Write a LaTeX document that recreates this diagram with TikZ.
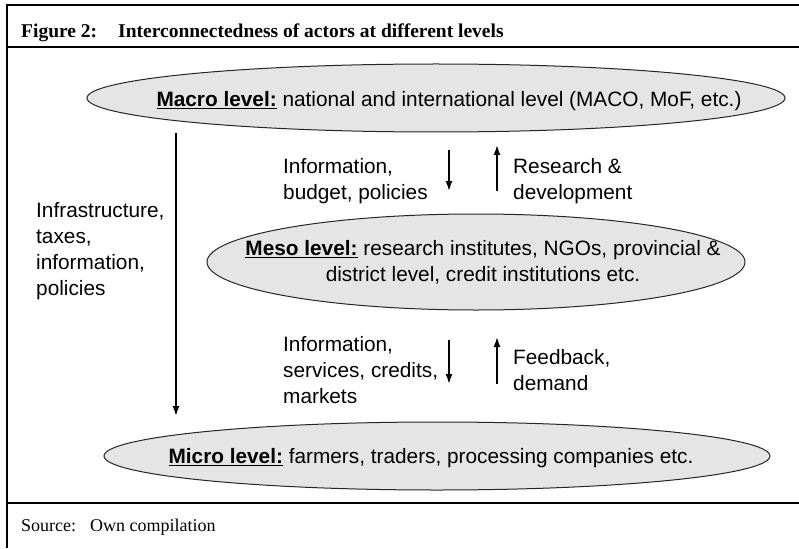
\documentclass[tikz,border=0pt]{standalone}
\usepackage{fontspec}
\setmainfont{Liberation Serif}
\setsansfont{Liberation Sans}
\usetikzlibrary{shapes.geometric, arrows.meta}

\begin{document}
\begin{tikzpicture}[x=1pt, y=-1pt]
        \tikzstyle{level}=[ellipse, draw=black!85, fill=gray!20, line width=1pt, inner sep=0pt];
        \tikzstyle{txt}=[font=\sffamily\fontsize{20.8}{26}\selectfont, inner sep=0pt, align=left];
        \tikzstyle{flow}=[-{Latex[length=10pt, width=7pt]}, line width=1.6pt];
        \tikzstyle{frame}=[line width=2.5pt];

        \useasboundingbox (0,0) rectangle (799,548);

        % frame and title
        \draw[frame] (799,5) -- (7,5) -- (7,548);
        \draw[frame] (7,47) -- (799,47);
        \draw[frame] (7,503) -- (799,503);
        \node[anchor=base west, inner sep=0pt, font=\bfseries\fontsize{19.5}{22}\selectfont] (title) at (21,38) {Figure 2:\hspace{21pt}Interconnectedness of actors at different levels};
        \node[anchor=base west, inner sep=0pt, font=\fontsize{18}{20}\selectfont] (source) at (21,531) {Source:\hspace{14pt}Own compilation};

        % levels
        \node[level, minimum width=698pt, minimum height=68pt] (macro) at (436, 98) {};
        \node[level, minimum width=538pt, minimum height=96pt] (meso) at (476, 262) {};
        \node[level, minimum width=666pt, minimum height=68pt] (micro) at (437, 456) {};

        \node[txt] (macrotxt) at (449, 101) {\underline{\textbf{Macro level:}} national and international level (MACO, MoF, etc.)};
        \node[txt, align=center] (mesotxt) at (483, 262) {\underline{\textbf{Meso level:}} research institutes, NGOs, provincial \&\\district level, credit institutions etc.};
        \node[txt] (microtxt) at (431, 458) {\underline{\textbf{Micro level:}} farmers, traders, processing companies etc.};

        % flows
        \node[txt, anchor=west] (infratxt) at (36, 251) {Infrastructure,\\taxes,\\information,\\policies};
        \node[txt, anchor=west] (budgettxt) at (283, 181) {Information,\\budget, policies};
        \node[txt, anchor=west] (researchtxt) at (513, 181) {Research \&\\development};
        \node[txt, anchor=west] (servicetxt) at (283, 370) {Information,\\services, credits,\\markets};
        \node[txt, anchor=west] (feedbacktxt) at (513, 370) {Feedback,\\demand};

        \coordinate (infra1) at (176, 133);
        \coordinate (infra2) at (176, 416);
        \coordinate (down1a) at (449, 150);
        \coordinate (down1b) at (449, 191);
        \coordinate (up1a) at (497, 191);
        \coordinate (up1b) at (497, 145);
        \coordinate (down2a) at (449, 340);
        \coordinate (down2b) at (449, 384);
        \coordinate (up2a) at (497, 384);
        \coordinate (up2b) at (497, 337);

        \draw (infra1) edge[flow] (infra2);
        \draw (down1a) edge[flow] (down1b);
        \draw (up1a) edge[flow] (up1b);
        \draw (down2a) edge[flow] (down2b);
        \draw (up2a) edge[flow] (up2b);

\end{tikzpicture}
\end{document}
